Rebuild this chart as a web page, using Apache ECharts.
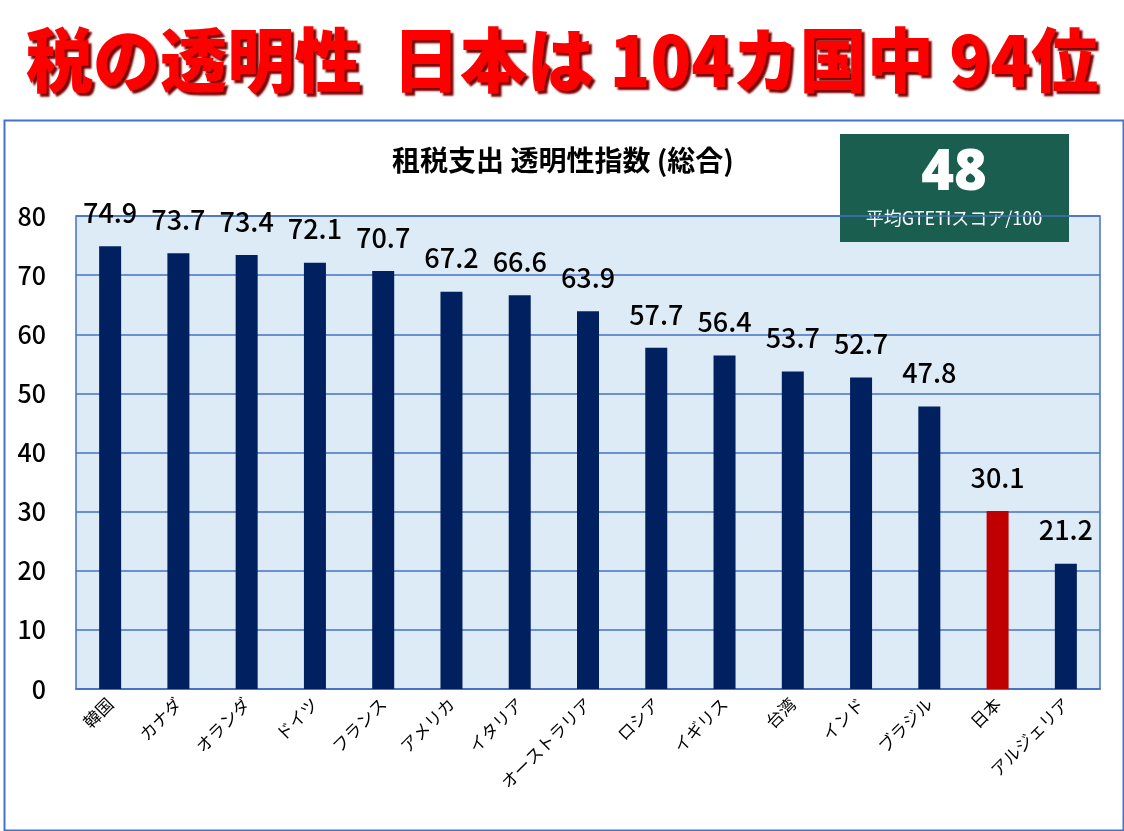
<!DOCTYPE html>
<html lang="ja">
<head>
    <meta charset="UTF-8">
    <title>税の透明性</title>
    <style>
    html, body { margin: 0; padding: 0; background: #fff; }
    #echart { width: 1124px; height: 831px; }
    </style>
</head>
<body>
    <div id="echart"></div>
    <script src="https://cdn.jsdelivr.net/npm/echarts@6/dist/echarts.min.js"></script>
    <script>
        // データ
        var countries = ['韓国','カナダ','オランダ','ドイツ','フランス','アメリカ','イタリア','オーストラリア','ロシア','イギリス','台湾','インド','ブラジル','日本','アルジェリア'];
        var scores = [74.9, 73.7, 73.4, 72.1, 70.7, 67.2, 66.6, 63.9, 57.7, 56.4, 53.7, 52.7, 47.8, 30.1, 21.2];
        var highlight = '日本';
        var yTicks = [0, 10, 20, 30, 40, 50, 60, 70, 80];
        var avgScore = '48';

        var font = '"Noto Sans CJK JP", "Noto Sans", sans-serif';

        var barData = scores.map(function (v, i) {
            return {
                value: v,
                itemStyle: { color: countries[i] === highlight ? '#C00000' : '#002060' }
            };
        });

        var myChart = echarts.init(document.getElementById('echart'));
        var option = {
            backgroundColor: '#fff',
            animation: false,
            textStyle: { fontFamily: font },
            title: {
                text: '租税支出 透明性指数 (総合)',
                left: 558,
                top: 141,
                textAlign: 'center',
                textStyle: { fontSize: 28, fontWeight: 'bold', color: '#000', fontFamily: font }
            },
            grid: {
                left: 76,
                right: 24,
                top: 216,
                bottom: 142,
                show: true,
                backgroundColor: '#DDEBF7',
                borderColor: '#4472C4',
                borderWidth: 1.5
            },
            xAxis: {
                type: 'category',
                data: countries,
                axisLine: { lineStyle: { color: '#4472C4', width: 1.5 } },
                axisTick: { show: false },
                axisLabel: {
                    rotate: 45,
                    interval: 0,
                    fontSize: 17,
                    color: '#000',
                    margin: 12,
                    fontFamily: font
                }
            },
            yAxis: {
                type: 'value',
                min: yTicks[0],
                max: yTicks[yTicks.length - 1],
                interval: 10,
                axisLine: { show: false },
                axisTick: { show: false },
                splitLine: { lineStyle: { color: '#4472C4', width: 1.5 } },
                axisLabel: { fontSize: 25, fontWeight: 500, color: '#000', margin: 30, fontFamily: font }
            },
            series: [
                {
                    type: 'bar',
                    data: barData,
                    barWidth: 22,
                    label: {
                        show: true,
                        position: 'top',
                        distance: 20,
                        fontSize: 27,
                        fontWeight: 500,
                        color: '#000',
                        fontFamily: font,
                        formatter: function (p) { return p.value.toFixed(1); }
                    }
                }
            ],
            graphic: [
                {
                    type: 'rect',
                    left: 2,
                    top: 118,
                    shape: { width: 1119, height: 710 },
                    style: { fill: 'none', stroke: '#4472C4', lineWidth: 2 },
                    z: -1
                },
                {
                    type: 'text',
                    x: 562,
                    y: 60,
                    scaleX: 0.96,
                    style: {
                        text: '税の透明性  日本は 104カ国中 94位',
                        fontSize: 70,
                        fontWeight: 900,
                        fontFamily: font,
                        fill: '#FF0000',
                        align: 'center',
                        verticalAlign: 'middle',
                        textShadowColor: '#7A0000',
                        textShadowOffsetX: 3,
                        textShadowOffsetY: 3,
                        textShadowBlur: 2
                    }
                },
                {
                    type: 'group',
                    left: 840,
                    top: 134,
                    z: 10,
                    children: [
                        {
                            type: 'rect',
                            shape: { x: 0, y: 0, width: 229, height: 108 },
                            style: { fill: '#1A5E4F' }
                        },
                        {
                            type: 'text',
                            x: 114,
                            y: 40,
                            style: {
                                text: avgScore,
                                fontSize: 56,
                                fontWeight: 800,
                                fontFamily: '"Open Sans", "Noto Sans", sans-serif',
                                fill: '#fff',
                                align: 'center',
                                verticalAlign: 'middle'
                            }
                        },
                        {
                            type: 'text',
                            x: 114,
                            y: 84,
                            style: {
                                text: '平均GTETIスコア/100',
                                fontSize: 18,
                                fontFamily: font,
                                fill: '#fff',
                                align: 'center',
                                verticalAlign: 'middle'
                            }
                        }
                    ]
                }
            ]
        };
        myChart.setOption(option);
    </script>
</body>
</html>
